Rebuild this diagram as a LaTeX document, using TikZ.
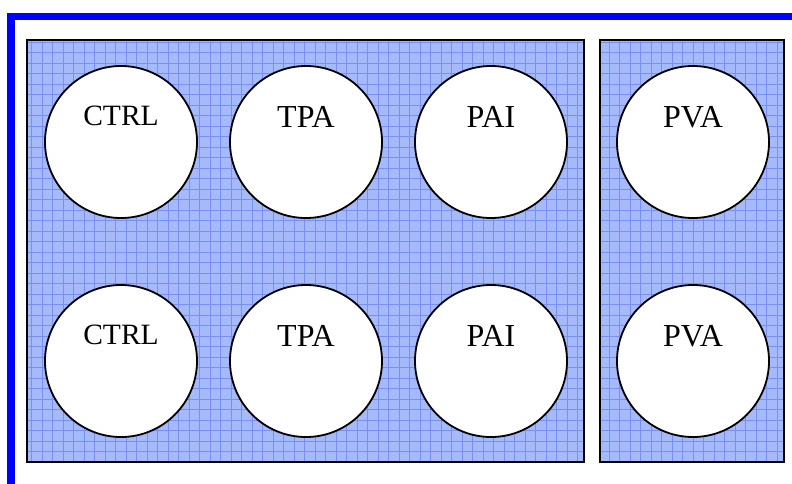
\documentclass[tikz,border=0pt]{standalone}
\usepackage{fontspec}
\setmainfont{Liberation Serif}
\definecolor{frameblue}{RGB}{0,0,255}
\definecolor{panelfill}{RGB}{166,185,250}
\definecolor{panelgrid}{RGB}{118,144,246}
\begin{document}
\begin{tikzpicture}[x=1pt,y=-1pt,
  panel/.style={draw=black,line width=2pt},
  gridline/.style={draw=panelgrid,line width=1pt},
  well/.style={circle,draw=black,line width=1.8pt,fill=white,minimum size=152pt,inner sep=0pt},
  tag/.style={anchor=base,inner sep=0pt,font=\fontsize{32}{34}\selectfont},
  smalltag/.style={anchor=base,inner sep=0pt,font=\fontsize{29.5}{32}\selectfont}]
\useasboundingbox (0,0) rectangle (792,483);
\fill[white] (0,0) rectangle (792,483);

% outer blue frame (runs off the right and bottom edges)
\draw[frameblue,line width=7.5pt] (11,500) -- (11,16.5) -- (810,16.5);

% two gridded panels
\foreach \xa/\xb in {27/584, 600/784}{
  \fill[panelfill] (\xa,40) rectangle (\xb,462);
  \begin{scope}
    \clip (\xa,40) rectangle (\xb,462);
    \foreach \gx in {0,10.5,...,790}{ \draw[gridline] (\gx,40) -- (\gx,462); }
    \foreach \gy in {0,10.5,...,480}{ \draw[gridline] (\xa,\gy) -- (\xb,\gy); }
  \end{scope}
  \draw[panel] (\xa,40) rectangle (\xb,462);
}

% wells, top row
\node[well] (w11) at (121,142) {};
\node[well] (w12) at (306,142) {};
\node[well] (w13) at (491,142) {};
\node[well] (w14) at (693,142) {};
% wells, bottom row
\node[well] (w21) at (121,361) {};
\node[well] (w22) at (306,361) {};
\node[well] (w23) at (491,361) {};
\node[well] (w24) at (693,361) {};

% well labels
\node[smalltag] (l11) at ([yshift=17pt]w11.center) {CTRL};
\node[tag] (l12) at ([yshift=15pt]w12.center) {TPA};
\node[tag] (l13) at ([yshift=15pt]w13.center) {PAI};
\node[tag] (l14) at ([yshift=15pt]w14.center) {PVA};
\node[smalltag] (l21) at ([yshift=17pt]w21.center) {CTRL};
\node[tag] (l22) at ([yshift=15pt]w22.center) {TPA};
\node[tag] (l23) at ([yshift=15pt]w23.center) {PAI};
\node[tag] (l24) at ([yshift=15pt]w24.center) {PVA};
\end{tikzpicture}
\end{document}
